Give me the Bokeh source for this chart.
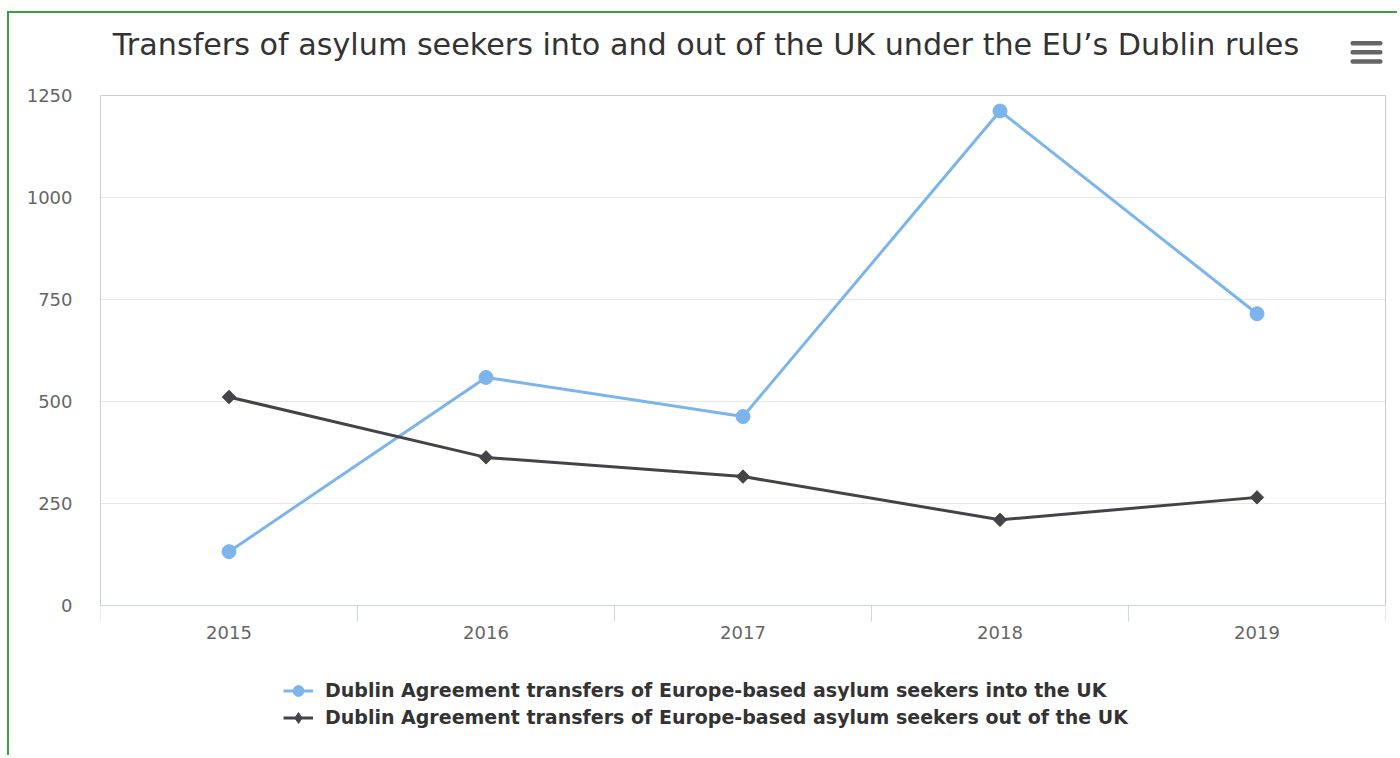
import math
from bokeh.plotting import figure
from bokeh.models import (Range1d, FixedTicker, Label, Legend, LegendItem,
                          BoxAnnotation, ColumnDataSource, LinearAxis, Span)
from bokeh.embed import file_html
from bokeh.resources import INLINE

TITLE = "Transfers of asylum seekers into and out of the UK under the EU\u2019s Dublin rules"
YEARS = ["2015", "2016", "2017", "2018", "2019"]
INTO_UK = [132, 559, 463, 1212, 715]
OUT_OF_UK = [511, 363, 316, 210, 265]
SERIES_NAMES = [
    "Dublin Agreement transfers of Europe-based asylum seekers into the UK",
    "Dublin Agreement transfers of Europe-based asylum seekers out of the UK",
]
Y_TICKS = [0, 250, 500, 750, 1000, 1250]
Y_MAX = 1250

FONT = "DejaVu Sans"
W, H = 1390, 744
FL, FR, FT, FB = 91, 14, 5, 0          # frame borders inside the canvas
PLOT_TOP, PLOT_BOTTOM = 82, 592        # canvas y of Y_MAX and of 0
ppu = (PLOT_BOTTOM - PLOT_TOP) / Y_MAX
y_start = -(H - FB - PLOT_BOTTOM) / ppu
y_end = Y_MAX + (PLOT_TOP - FT) / ppu

xs = list(range(len(YEARS)))
src = ColumnDataSource(dict(x=xs, into=INTO_UK, out=OUT_OF_UK))

p = figure(width=W, height=H, output_backend="svg", toolbar_location=None,
           x_range=Range1d(-0.5, len(YEARS) - 0.5),
           y_range=Range1d(y_start, y_end),
           min_border_left=FL, min_border_right=FR, min_border_top=FT,
           min_border_bottom=FB, background_fill_color="white",
           border_fill_color="white")
if p.title is not None:
    p.title.visible = False
p.styles = {"margin-left": "7px", "margin-top": "11px",
            "border-top": "2px solid #3f9f3f",
            "border-left": "2px solid #3f9f3f"}
p.outline_line_color = None

# y axis (its line is the left border of the plot area)
p.yaxis.ticker = FixedTicker(ticks=Y_TICKS)
p.yaxis.bounds = (0, Y_MAX)
p.yaxis.axis_line_color = "#cccccc"
p.yaxis.major_tick_line_color = None
p.yaxis.minor_tick_line_color = None
p.yaxis.major_tick_out = 0
p.yaxis.major_tick_in = 0
p.yaxis.major_label_standoff = 28
p.yaxis.major_label_text_font = FONT
p.yaxis.major_label_text_font_size = "18px"
p.yaxis.major_label_text_color = "#666666"
p.ygrid.ticker = FixedTicker(ticks=Y_TICKS)
p.ygrid.grid_line_color = "#e6e6e6"
p.xgrid.grid_line_color = None

# right border of plot area
rax = LinearAxis(ticker=FixedTicker(ticks=[]), bounds=(0, Y_MAX),
                 axis_line_color="#cccccc", major_tick_line_color=None,
                 minor_tick_line_color=None, major_label_standoff=0,
                 major_tick_out=0, major_tick_in=0,
                 major_label_text_font_size="0px")
p.add_layout(rax, "right")
# top border of plot area
p.add_layout(Span(location=Y_MAX, dimension="width", line_color="#cccccc",
                  line_width=1))

# x axis at y = 0: labels at category centres, ticks at category boundaries
bounds = [i - 0.5 for i in range(len(YEARS) + 1)]
p.xaxis.fixed_location = 0
p.xaxis.ticker = FixedTicker(ticks=xs, minor_ticks=bounds)
p.xaxis.major_label_overrides = {i: y for i, y in zip(xs, YEARS)}
p.xaxis.axis_line_color = "#ccd6eb"
p.xaxis.major_tick_line_color = None
p.xaxis.major_tick_out = 0
p.xaxis.major_tick_in = 0
p.xaxis.minor_tick_line_color = "#ccd6eb"
p.xaxis.minor_tick_out = 16
p.xaxis.minor_tick_in = 0
p.xaxis.major_label_standoff = 4
p.xaxis.major_label_text_font = FONT
p.xaxis.major_label_text_font_size = "18px"
p.xaxis.major_label_text_color = "#666666"

BLUE = "#7cb5ec"
DARK = "#434348"
l1 = p.line("x", "into", source=src, line_color=BLUE, line_width=3)
m1 = p.scatter("x", "into", source=src, marker="circle", size=14,
               fill_color=BLUE, line_color=BLUE)
l2 = p.line("x", "out", source=src, line_color=DARK, line_width=3)
# diamond symbol used by the legend (legend glyphs ignore marker angle);
# it sits fully inside the rotated square drawn on top of it
m2_leg = p.scatter("x", "out", source=src, marker="diamond", size=12,
                   fill_color=DARK, line_color=DARK)
m2 = p.scatter("x", "out", source=src, marker="square", size=9.5,
               angle=math.pi / 4, fill_color=DARK, line_color=DARK)

legend = Legend(items=[LegendItem(label=SERIES_NAMES[0], renderers=[l1, m1]),
                       LegendItem(label=SERIES_NAMES[1], renderers=[l2, m2_leg])],
                location=(183, 26.5), orientation="vertical",
                label_text_font=FONT, label_text_font_style="bold",
                label_text_font_size="19px", label_text_color="#333333",
                glyph_width=30, glyph_height=27, label_height=27,
                label_standoff=12, spacing=0, padding=0, margin=0,
                border_line_color=None, background_fill_alpha=0)
p.add_layout(legend, "center")

title = Label(x=605.5, y=713, x_units="screen", y_units="screen", text=TITLE,
              text_font=FONT, text_font_size="30.2px", text_color="#333333",
              text_align="center", text_baseline="alphabetic")
p.add_layout(title)

# hamburger (export menu) icon
for c in (714.3, 705.3, 696.0):
    p.add_layout(BoxAnnotation(left=1250, right=1282, top=c + 2.3, bottom=c - 2.3,
                               left_units="screen", right_units="screen",
                               top_units="screen", bottom_units="screen",
                               fill_color="#666666", fill_alpha=1,
                               line_color=None, border_radius=2))

open("out.html", "w").write(file_html(p, INLINE))
